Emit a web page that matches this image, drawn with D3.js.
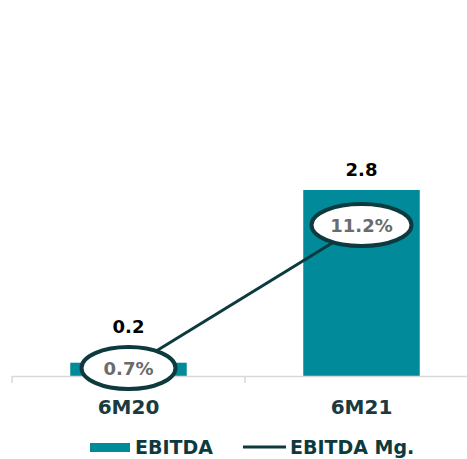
<!DOCTYPE html>
<html><head><meta charset="utf-8">
<script src="https://cdn.jsdelivr.net/npm/d3@7"></script>
<style>body{margin:0;background:#fff}svg{display:block}</style>
</head><body>
<svg id="c" width="467" height="459"></svg>
<script>
const categories = ["6M20", "6M21"];
const ebitda = [0.2, 2.8];
const ebitdaLabels = ["0.2", "2.8"];
const margin = [0.7, 11.2];
const marginLabels = ["0.7%", "11.2%"];
const legendLabels = ["EBITDA", "EBITDA Mg."];

const svg = d3.select("#c");
const font = "'DejaVu Sans', sans-serif";
const barColor = "#008a9a", dark = "#0c3a3e";
const baseY = 376;
const ry = 21;

const x = d3.scaleBand().domain(categories).range([12, 478]).paddingInner(0).paddingOuter(0);
const y = d3.scaleLinear().domain([0, 2.8]).range([baseY, 190]);
const y2 = d3.scaleLinear().domain([0, 11.2]).range([baseY + 1.5, 225]);

// bars
svg.selectAll("rect.bar").data(categories).join("rect")
  .attr("x", d => x(d) + x.bandwidth() * 0.25)
  .attr("width", x.bandwidth() * 0.5)
  .attr("y", (d, i) => y(ebitda[i]))
  .attr("height", (d, i) => baseY - y(ebitda[i]))
  .attr("fill", barColor);

// axis
const ax = svg.append("g").attr("transform", `translate(0,${baseY})`)
  .call(d3.axisBottom(x).tickSize(0).tickFormat(""));
ax.select(".domain").attr("stroke", "#d9d9d9").attr("stroke-width", 1.5);
ax.selectAll(".tick").remove();
const bounds = [12, 12 + x.bandwidth(), 12 + 2 * x.bandwidth()];
svg.selectAll("line.tk").data(bounds).join("line")
  .attr("x1", d => d).attr("x2", d => d)
  .attr("y1", baseY).attr("y2", baseY + 7)
  .attr("stroke", "#d9d9d9").attr("stroke-width", 1.5);

// category labels
svg.selectAll("text.cat").data(categories).join("text")
  .attr("x", d => x(d) + x.bandwidth() / 2).attr("y", 414)
  .attr("text-anchor", "middle").attr("font-family", font).attr("font-weight", "bold")
  .attr("font-size", 20).attr("fill", "#1a3a40").text(d => d);

// bar value labels
svg.selectAll("text.val").data(categories).join("text")
  .attr("x", d => x(d) + x.bandwidth() / 2)
  .attr("y", (d, i) => Math.min(y(ebitda[i]), y2(margin[i]) - ry) - 14)
  .attr("text-anchor", "middle").attr("font-family", font).attr("font-weight", "bold")
  .attr("font-size", 18).attr("fill", "#000").text((d, i) => ebitdaLabels[i]);

// line
const line = d3.line().x(d => x(d.c) + x.bandwidth() / 2).y(d => y2(d.v));
const pts = categories.map((c, i) => ({c, v: margin[i]}));
svg.append("path").attr("d", line(pts)).attr("fill", "none")
  .attr("stroke", dark).attr("stroke-width", 3);

// ellipses
svg.selectAll("ellipse.m").data(pts).join("ellipse")
  .attr("cx", d => x(d.c) + x.bandwidth() / 2).attr("cy", d => y2(d.v))
  .attr("rx", (d, i) => i === 0 ? 47 : 50).attr("ry", ry)
  .attr("fill", "#fff").attr("stroke", dark).attr("stroke-width", 4);
svg.selectAll("text.m").data(pts).join("text")
  .attr("x", d => x(d.c) + x.bandwidth() / 2).attr("y", d => y2(d.v) + 7)
  .attr("text-anchor", "middle").attr("font-family", font).attr("font-weight", "bold")
  .attr("font-size", 18).attr("fill", "#6b6b6b").text((d, i) => marginLabels[i]);

// legend
const lg = svg.append("g");
lg.append("rect").attr("x", 90).attr("y", 443).attr("width", 40).attr("height", 9).attr("fill", barColor);
lg.append("text").attr("x", 135).attr("y", 454).attr("font-family", font).attr("font-weight", "bold")
  .attr("font-size", 19).attr("fill", dark).text(legendLabels[0]);
lg.append("line").attr("x1", 243).attr("x2", 286).attr("y1", 447).attr("y2", 447)
  .attr("stroke", dark).attr("stroke-width", 3);
lg.append("text").attr("x", 290).attr("y", 454).attr("font-family", font).attr("font-weight", "bold")
  .attr("font-size", 19).attr("fill", dark).text(legendLabels[1]);
</script>
</body></html>
